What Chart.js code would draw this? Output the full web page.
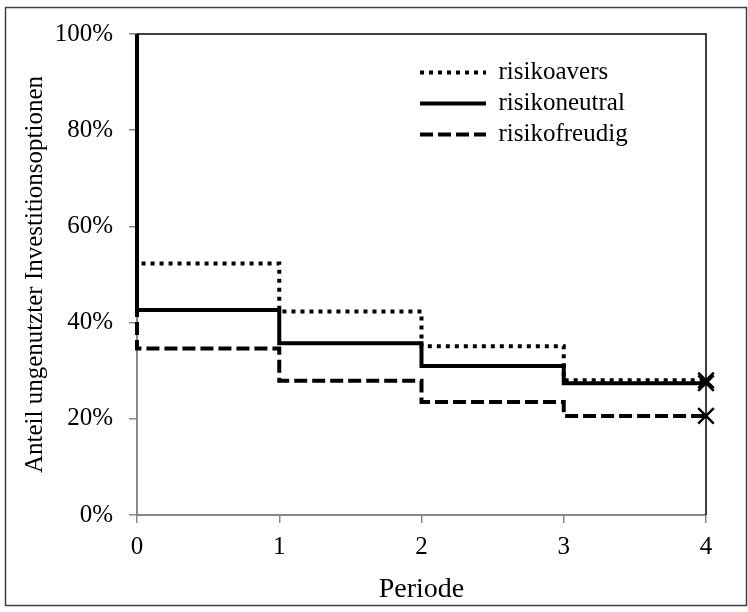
<!DOCTYPE html>
<html>
<head>
<meta charset="utf-8">
<title>Anteil ungenutzter Investitionsoptionen</title>
<script src="https://cdn.jsdelivr.net/npm/chart.js@4"></script>
<style>
  body { margin: 0; background: #fff; }
  canvas { display: block; }
</style>
</head>
<body>
<canvas id="chart" width="748" height="612"></canvas>
<script>
// x positions of the step points (period 0 is listed twice: start at 100 %, then the first drop)
const periods = [0, 0, 1, 2, 3, 4];
const periodTicks = ['0', '1', '2', '3', '4'];
const percentTicks = [0, 20, 40, 60, 80, 100];

// share of unused options (%) per period
const risikoavers = [100, 52.3, 42.3, 35.1, 28.0, 28.0];
const risikoneutral = [100, 42.6, 35.7, 31.0, 27.4, 27.4];
const risikofreudig = [100, 34.6, 27.9, 23.5, 20.6, 20.6];

const seriesNames = ['risikoavers', 'risikoneutral', 'risikofreudig'];

function toPoints(values) {
  return values.map((v, i) => ({ x: periods[i], y: v }));
}

// X marker only on the last point of each series
const markerRadius = periods.map((p, i) => (i === periods.length - 1 ? 11 : 0));

// outer frame + top/right border of the plot area
const framePlugin = {
  id: 'frame',
  beforeDraw(chart) {
    const ctx = chart.ctx;
    ctx.save();
    ctx.fillStyle = '#fff';
    ctx.fillRect(0, 0, chart.width, chart.height);
    ctx.strokeStyle = '#404040';
    ctx.lineWidth = 1.5;
    ctx.strokeRect(5.5, 7.5, chart.width - 7, chart.height - 14);
    ctx.restore();
  },
  beforeDatasetsDraw(chart) {
    const { ctx, chartArea: a } = chart;
    ctx.save();
    ctx.strokeStyle = '#000';
    ctx.lineWidth = 1.5;
    ctx.beginPath();
    ctx.moveTo(a.left, a.top);
    ctx.lineTo(a.right, a.top);
    ctx.lineTo(a.right, a.bottom);
    ctx.stroke();
    ctx.restore();
  }
};

// move the legend to its spot in the upper right of the plot
const legendSpot = {
  id: 'legendSpot',
  afterLayout(chart) {
    const l = chart.legend;
    if (!l) return;
    l.left = 414;
    l.top = 54;
  }
};

Chart.defaults.font.family = '"Liberation Serif", "Times New Roman", serif';
Chart.defaults.font.size = 25;
Chart.defaults.color = '#000';

function series(i, values, dash) {
  return {
    label: seriesNames[i],
    data: toPoints(values),
    borderColor: '#000',
    backgroundColor: '#000',
    borderWidth: 4,
    borderDash: dash,
    stepped: true,
    pointStyle: 'crossRot',
    pointRadius: markerRadius,
    pointBorderWidth: 2.5,
    pointBorderColor: '#000'
  };
}

new Chart(document.getElementById('chart'), {
  type: 'line',
  data: {
    datasets: [
      series(0, risikoavers, [4, 5]),
      series(1, risikoneutral, []),
      series(2, risikofreudig, [13, 5])
    ]
  },
  options: {
    responsive: false,
    animation: false,
    clip: false,
    layout: { padding: { left: 0, top: 34, right: 42, bottom: 0 } },
    plugins: {
      tooltip: { enabled: false },
      legend: {
        position: 'chartArea',
        align: 'start',
        labels: {
          usePointStyle: true,
          pointStyleWidth: 66,
          padding: 6,
          font: { size: 25 },
          generateLabels(chart) {
            const items = Chart.defaults.plugins.legend.labels.generateLabels(chart);
            items.forEach(it => {
              const ds = chart.data.datasets[it.datasetIndex];
              it.pointStyle = 'line';
              it.lineWidth = ds.borderWidth;
              it.lineDash = ds.borderDash;
              it.strokeStyle = ds.borderColor;
            });
            return items;
          }
        }
      }
    },
    scales: {
      x: {
        type: 'linear',
        min: 0,
        max: 4,
        afterFit(scale) { scale.height = 97; },
        afterBuildTicks(scale) {
          scale.ticks = periodTicks.map(t => ({ value: Number(t) }));
        },
        ticks: {
          padding: 9,
          callback: (v) => periodTicks[v]
        },
        grid: { drawOnChartArea: false, tickLength: 8, color: '#888', lineWidth: 1.5 },
        border: { color: '#888', width: 2 },
        title: { display: true, text: 'Periode', font: { size: 28 }, padding: { top: 0, bottom: 6 } }
      },
      y: {
        min: 0,
        max: 100,
        afterFit(scale) { scale.width = 137; },
        afterBuildTicks(scale) {
          scale.ticks = percentTicks.map(v => ({ value: v }));
        },
        ticks: {
          padding: 16,
          callback: (v) => v + '%'
        },
        grid: { drawOnChartArea: false, tickLength: 8, color: '#888', lineWidth: 1.5 },
        border: { color: '#888', width: 2 },
        title: {
          display: true,
          text: 'Anteil ungenutzter Investitionsoptionen',
          font: { size: 25 },
          padding: { top: 20, bottom: 0 }
        }
      }
    }
  },
  plugins: [framePlugin, legendSpot]
});
</script>
</body>
</html>
